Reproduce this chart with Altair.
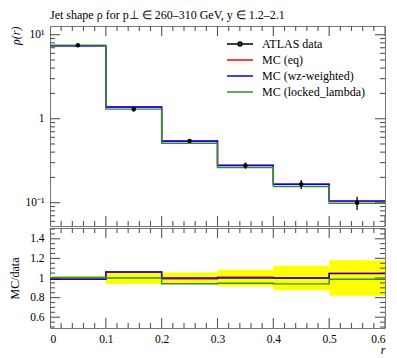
import altair as alt
import pandas as pd
import numpy as np

# ---------------- data ----------------
edges = [0.0, 0.1, 0.2, 0.3, 0.4, 0.5, 0.6]
centers = [0.05, 0.15, 0.25, 0.35, 0.45, 0.55]
data_vals = [7.47, 1.30, 0.543, 0.277, 0.166, 0.100]
data_relerr = [0.02, 0.06, 0.055, 0.085, 0.125, 0.18]
mc_eq = [7.37, 1.38, 0.538, 0.279, 0.166, 0.105]
mc_wz = [7.37, 1.38, 0.543, 0.277, 0.166, 0.1045]
mc_locked = [7.52, 1.30, 0.511, 0.262, 0.156, 0.0987]

series_names = ["ATLAS data", "MC (eq)", "MC (wz-weighted)", "MC (locked_lambda)"]
series_colors = ["black", "#ff0000", "#0000ff", "#2a922a"]

x_major = [0.0, 0.1, 0.2, 0.3, 0.4, 0.5, 0.6]
x_minor = [0.02, 0.04, 0.06, 0.08, 0.12, 0.14, 0.16, 0.18, 0.22, 0.24, 0.26, 0.28,
           0.32, 0.34, 0.36, 0.38, 0.42, 0.44, 0.46, 0.48, 0.52, 0.54, 0.56, 0.58]
y_major = [0.1, 1, 10]
y_minor = [0.06, 0.07, 0.08, 0.09, 0.2, 0.3, 0.4, 0.5, 0.6, 0.7, 0.8, 0.9,
           2, 3, 4, 5, 6, 7, 8, 9]
r_major = [0.6, 0.8, 1.0, 1.2, 1.4]
r_minor = [0.5, 0.55, 0.65, 0.7, 0.75, 0.85, 0.9, 0.95, 1.05, 1.1, 1.15,
           1.25, 1.3, 1.35, 1.45, 1.5]

x_range = [0.0, 0.6]
y_range = [0.0528, 12.7]
r_range = [0.49, 1.51]

title_text = "Jet shape ρ for p⊥ ∈ 260–310 GeV, y ∈ 1.2–2.1"

FONT = "Liberation Serif"
TICK = "#555555"
W = 335
H_UP = 200
H_LO = 100

# ---------------- tables ----------------
mc_series = {"MC (eq)": mc_eq, "MC (wz-weighted)": mc_wz, "MC (locked_lambda)": mc_locked}

step_rows, ratio_rows = [], []
for name, vals in mc_series.items():
    ext = list(vals) + [vals[-1]]
    dext = list(data_vals) + [data_vals[-1]]
    for xe, v, d in zip(edges, ext, dext):
        step_rows.append({"x": xe, "y": v, "series": name})
        ratio_rows.append({"x": xe, "y": v / d, "series": name})
step_df = pd.DataFrame(step_rows)
ratio_df = pd.DataFrame(ratio_rows)

pts_df = pd.DataFrame({
    "x": centers,
    "y": data_vals,
    "lo": [v * (1 - e) for v, e in zip(data_vals, data_relerr)],
    "hi": [v * (1 + e) for v, e in zip(data_vals, data_relerr)],
})
band_df = pd.DataFrame({
    "x": edges[:-1], "x2": edges[1:],
    "lo": [1 - e for e in data_relerr], "hi": [1 + e for e in data_relerr],
})
legend_df = pd.DataFrame({"series": series_names, "x": [np.nan] * 4, "y": [np.nan] * 4})

# ---------------- scales ----------------
xs = alt.Scale(domain=x_range, nice=False, zero=False)
ys = alt.Scale(type="log", domain=y_range, nice=False)
rs = alt.Scale(domain=r_range, nice=False, zero=False)
cs = alt.Scale(domain=series_names, range=series_colors)
shape_paths = [
    "M-2,0H2M-0.3,0A0.3,0.3,0,1,1,0.3,0A0.3,0.3,0,1,1,-0.3,0Z",
    "M-2,0H2", "M-2,0H2", "M-2,0H2",
]
ss = alt.Scale(domain=series_names, range=shape_paths)

AX = dict(ticks=False, domain=False, grid=False,
          labelFont=FONT, labelFontSize=11.5, labelColor="black",
          titleFont=FONT, titleFontSize=12, titleFontWeight="normal", titleColor="black")

ya_up = alt.Axis(values=y_major, labelPadding=6,
                 labelExpr="datum.value >= 5 ? '10¹' : (datum.value >= 0.5 ? '1' : '10⁻¹')",
                 title="ρ(r)", titleAnchor="end", titlePadding=3, titleFontStyle="italic", **AX)
xa_lo = alt.Axis(values=x_major, labelPadding=5, format="~g", title="r", titleAnchor="end",
                 titleFontStyle="italic", titlePadding=0, **AX)
ya_lo = alt.Axis(values=r_major, labelPadding=6, format="~g", title="MC/data",
                 titlePadding=8, **AX)


def tick_layers(xaxis, yaxis, yscale, yrange, xmaj, xmin, ymaj, ymin):
    """Frame ticks: tick marks centred on the frame edges, clipped to the plot."""
    layers = []
    for vals, ln in ((xmaj, 20), (xmin, 10)):
        df = pd.DataFrame({"tv": list(vals) * 2,
                           "edge": [yrange[0]] * len(vals) + [yrange[1]] * len(vals)})
        layers.append(alt.Chart(df).mark_tick(
            orient="vertical", size=ln, thickness=1.1, color=TICK, opacity=1, clip=True
        ).encode(
            x=alt.X("tv:Q", scale=xs, axis=xaxis),
            y=alt.Y("edge:Q", scale=yscale, axis=yaxis),
        ))
    for vals, ln in ((ymaj, 20), (ymin, 10)):
        df = pd.DataFrame({"tv": list(vals) * 2,
                           "edge": [x_range[0]] * len(vals) + [x_range[1]] * len(vals)})
        layers.append(alt.Chart(df).mark_tick(
            orient="horizontal", size=ln, thickness=1.1, color=TICK, opacity=1, clip=True
        ).encode(
            y=alt.Y("tv:Q", scale=yscale, axis=yaxis),
            x=alt.X("edge:Q", scale=xs, axis=xaxis),
        ))
    return layers


leg = alt.Legend(title=None, orient="none", legendX=182.5, legendY=10.5,
                 labelFont=FONT, labelFontSize=12, labelColor="black",
                 symbolSize=169, symbolStrokeWidth=1.5, labelOffset=14.5,
                 rowPadding=2, labelLimit=0)

frame = alt.ViewBackground(stroke="#777777", strokeWidth=1)

# ---------------- upper panel ----------------
up_ticks = tick_layers(None, ya_up, ys, y_range, x_major, x_minor, y_major, y_minor)

up_lines = alt.Chart(step_df).mark_line(interpolate="step-after", strokeWidth=1.4).encode(
    x=alt.X("x:Q", scale=xs, axis=None),
    y=alt.Y("y:Q", scale=ys, axis=ya_up),
    color=alt.Color("series:N", scale=cs, legend=leg),
    detail="series:N",
)
up_err = alt.Chart(pts_df).mark_rule(color="black", strokeWidth=1.3).encode(
    x=alt.X("x:Q", scale=xs, axis=None),
    y=alt.Y("lo:Q", scale=ys, axis=ya_up),
    y2="hi:Q",
)
up_pts = alt.Chart(pts_df).mark_circle(size=20, color="black", opacity=1).encode(
    x=alt.X("x:Q", scale=xs, axis=None),
    y=alt.Y("y:Q", scale=ys, axis=ya_up),
)
up_leg = alt.Chart(legend_df).mark_point(filled=False, clip=True, strokeWidth=1.5, opacity=1).encode(
    x=alt.X("x:Q", scale=xs, axis=None),
    y=alt.Y("y:Q", scale=ys, axis=ya_up),
    color=alt.Color("series:N", scale=cs, legend=leg),
    shape=alt.Shape("series:N", scale=ss, legend=leg),
)

upper = alt.layer(*up_ticks, up_lines, up_err, up_pts, up_leg).properties(
    width=W, height=H_UP, view=frame,
    title=alt.TitleParams(text=title_text, anchor="start", frame="group", offset=4,
                          font=FONT, fontSize=12, fontWeight="normal", color="black"),
)

# ---------------- lower panel ----------------
lo_ticks = tick_layers(xa_lo, ya_lo, rs, r_range, x_major, x_minor, r_major, r_minor)
lo_band = alt.Chart(band_df).mark_rect(color="#ffff00").encode(
    x=alt.X("x:Q", scale=xs, axis=xa_lo), x2="x2:Q",
    y=alt.Y("lo:Q", scale=rs, axis=ya_lo), y2="hi:Q",
)
lo_lines = alt.Chart(ratio_df).mark_line(interpolate="step-after", strokeWidth=1.4).encode(
    x=alt.X("x:Q", scale=xs, axis=xa_lo),
    y=alt.Y("y:Q", scale=rs, axis=ya_lo),
    color=alt.Color("series:N", scale=cs, legend=None),
    detail="series:N",
)
lower = alt.layer(lo_band, *lo_ticks, lo_lines).properties(width=W, height=H_LO, view=frame)

chart = alt.vconcat(upper, lower, spacing=0).resolve_legend(
    color="independent", shape="independent"
).properties(
    background="white",
    padding={"left": 0, "top": 0, "right": 0, "bottom": 0},
)

chart.save("out.html", embed_options={"renderer": "svg", "actions": False})
